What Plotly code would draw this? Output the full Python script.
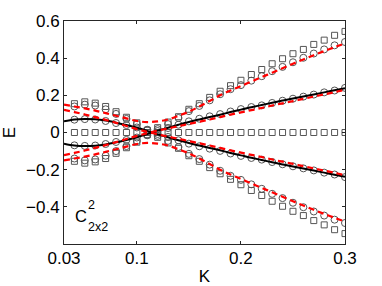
import plotly.graph_objects as go

# ---- data ----
K_marks = [0.04, 0.05, 0.06, 0.07, 0.08, 0.09, 0.10, 0.11, 0.12, 0.13, 0.14, 0.15, 0.16, 0.17,
           0.18, 0.19, 0.20, 0.21, 0.22, 0.23, 0.24, 0.25, 0.26, 0.27, 0.28, 0.29, 0.30]
sq_zero = [0.0] * 27
sq_outer = [0.155, 0.165, 0.158, 0.140, 0.112, 0.082, 0.052, 0.012, 0.026, 0.056, 0.085, 0.125, 0.155,
            0.189, 0.222, 0.252, 0.281, 0.312, 0.339, 0.370, 0.397, 0.424, 0.447, 0.474, 0.497, 0.523, 0.544]
circ_outer = [0.140, 0.150, 0.145, 0.125, 0.100, 0.073, 0.045, 0.015, 0.018, 0.045, 0.078, 0.115, 0.143,
              0.173, 0.206, 0.233, 0.255, 0.279, 0.303, 0.330, 0.353, 0.378, 0.402, 0.425, 0.447, 0.469, 0.487]
circ_inner = [0.069, 0.072, 0.070, 0.062, 0.051, 0.040, 0.027, 0.013, 0.008, 0.024, 0.042, 0.060, 0.074,
              0.087, 0.099, 0.113, 0.126, 0.137, 0.146, 0.159, 0.171, 0.182, 0.193, 0.204, 0.216, 0.226, 0.240]

K_line = [0.03, 0.04, 0.05, 0.06, 0.07, 0.08, 0.09, 0.10, 0.11, 0.12, 0.13, 0.14, 0.15, 0.16, 0.17,
          0.18, 0.19, 0.20, 0.21, 0.22, 0.23, 0.24, 0.25, 0.26, 0.27, 0.28, 0.29, 0.30]
black_branch = [0.060, 0.070, 0.073, 0.071, 0.064, 0.053, 0.040, 0.026, 0.009, -0.010, -0.026, -0.042,
                -0.057, -0.070, -0.083, -0.096, -0.110, -0.123, -0.136, -0.148, -0.160, -0.172, -0.183,
                -0.194, -0.205, -0.216, -0.227, -0.238]
red_outer = [0.150, 0.140, 0.130, 0.118, 0.104, 0.090, 0.076, 0.062, 0.056, 0.060, 0.070, 0.090, 0.112,
             0.140, 0.170, 0.200, 0.226, 0.250, 0.274, 0.298, 0.322, 0.346, 0.370, 0.393, 0.416, 0.438,
             0.459, 0.480]
red_inner = [0.122, 0.110, 0.097, 0.083, 0.068, 0.052, 0.035, 0.018, 0.004, -0.010, -0.022, -0.034,
             -0.046, -0.058, -0.070, -0.083, -0.096, -0.108, -0.120, -0.132, -0.145, -0.157, -0.169,
             -0.181, -0.193, -0.205, -0.217, -0.230]

x_ticks = [0.03, 0.1, 0.2, 0.3]
x_ticklabels = ["0.03", "0.1", "0.2", "0.3"]
y_ticks = [-0.4, -0.2, 0, 0.2, 0.4, 0.6]
y_ticklabels = ["\u22120.4", "\u22120.2", "0", "0.2", "0.4", "0.6"]

FONT = "Liberation Sans, Arial, sans-serif"
GRAY = "#555555"

fig = go.Figure()

def neg(a):
    return [-v for v in a]

sq_style = dict(symbol="square-open", size=6, color=GRAY, line=dict(width=1, color=GRAY))
ci_style = dict(symbol="circle-open", size=7, color=GRAY, line=dict(width=1, color=GRAY))

for ys, st in [(sq_zero, sq_style), (sq_outer, sq_style), (neg(sq_outer), sq_style),
               (circ_outer, ci_style), (neg(circ_outer), ci_style),
               (circ_inner, ci_style), (neg(circ_inner), ci_style)]:
    fig.add_trace(go.Scatter(x=K_marks, y=ys, mode="markers", marker=st,
                             showlegend=False, hoverinfo="skip"))

for ys in [black_branch, neg(black_branch)]:
    fig.add_trace(go.Scatter(x=K_line, y=ys, mode="lines",
                             line=dict(color="black", width=2, shape="spline"),
                             showlegend=False, hoverinfo="skip"))

for ys in [red_outer, neg(red_outer), red_inner, neg(red_inner)]:
    fig.add_trace(go.Scatter(x=K_line, y=ys, mode="lines",
                             line=dict(color="#ff0000", width=2.2, shape="spline", dash="6px,4px"),
                             showlegend=False, hoverinfo="skip"))

axis_common = dict(showline=True, linecolor="#262626", linewidth=1, mirror="ticks",
                   ticks="inside", ticklen=3, tickcolor="#262626", showgrid=False,
                   zeroline=False, automargin=False,
                   tickfont=dict(family=FONT, size=17, color="black"))

fig.update_xaxes(range=[0.03, 0.3], tickvals=x_ticks, ticktext=x_ticklabels,
                 ticklabelstandoff=-1,
                 title=dict(text="K", font=dict(family=FONT, size=17, color="black"), standoff=2),
                 **axis_common)
fig.update_yaxes(range=[-0.6, 0.6], tickvals=y_ticks, ticktext=y_ticklabels,
                 ticklabelstandoff=0,
                 title=dict(text="E", font=dict(family=FONT, size=17, color="black"), standoff=8),
                 **axis_common)

fig.add_annotation(xref="paper", yref="paper", x=0.033, y=0.125, xanchor="left", yanchor="middle",
                   text="C", showarrow=False, font=dict(family=FONT, size=16.5, color="black"))
fig.add_annotation(xref="paper", yref="paper", x=0.078, y=0.175, xanchor="left", yanchor="middle",
                   text="2", showarrow=False, font=dict(family=FONT, size=12.5, color="black"))
fig.add_annotation(xref="paper", yref="paper", x=0.078, y=0.075, xanchor="left", yanchor="middle",
                   text="2x2", showarrow=False, font=dict(family=FONT, size=12.5, color="black"))

fig.update_layout(width=382, height=286, margin=dict(l=64, r=37, t=21, b=42),
                  paper_bgcolor="white", plot_bgcolor="white",
                  font=dict(family=FONT, color="black"))

fig.write_html("out.html", config={"displayModeBar": False, "staticPlot": True},
               post_script="document.body.style.margin='0';document.body.style.overflow='hidden';")
